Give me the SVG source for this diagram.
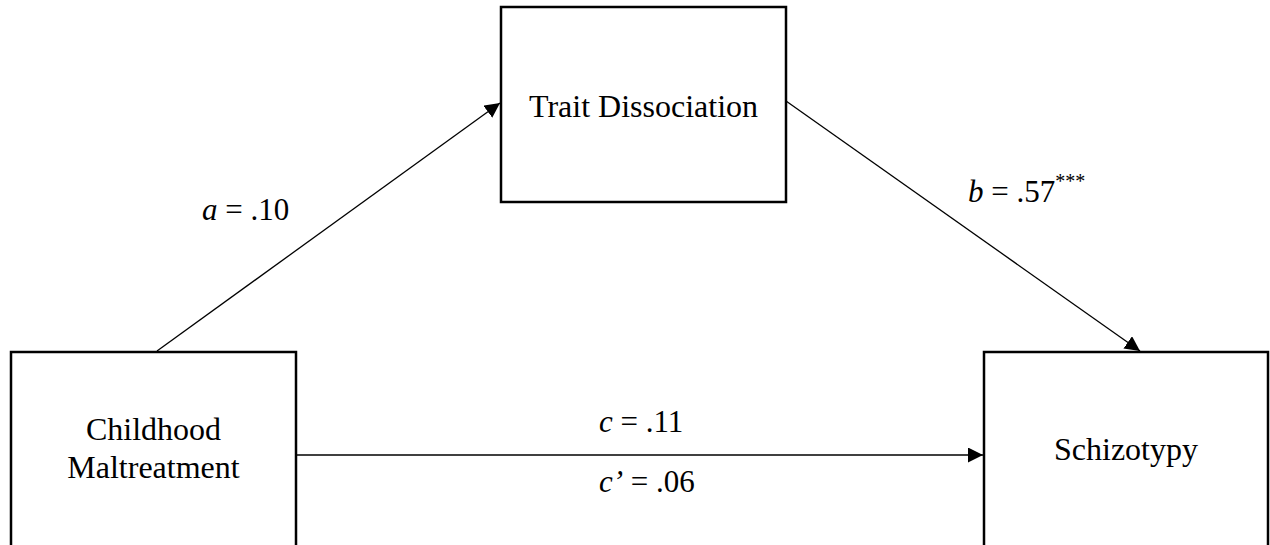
<svg xmlns="http://www.w3.org/2000/svg" width="1270" height="545" viewBox="0 0 1270 545">
<defs>
<marker id="arr" markerWidth="16" markerHeight="16" refX="15" refY="7.5" orient="auto" markerUnits="userSpaceOnUse">
<path d="M0,0 L15,7.5 L0,15 Z" fill="#000"/>
</marker>
<style>
.box{fill:#fff;stroke:#000;stroke-width:2.5}
.t{font-family:"Liberation Serif","Times New Roman",serif;font-size:32px;fill:#000}
.lbl{font-family:"Liberation Serif","Times New Roman",serif;font-size:31px;fill:#000}
.edge{stroke:#000;stroke-width:1.3;fill:none}
</style>
</defs>
<rect width="1270" height="545" fill="#fff"/>
<g id="connectors">
<line class="edge" x1="157" y1="351" x2="500" y2="103" marker-end="url(#arr)"/>
<line class="edge" x1="786" y1="101" x2="1140" y2="351" marker-end="url(#arr)"/>
<line class="edge" x1="296" y1="455" x2="983" y2="455" marker-end="url(#arr)"/>
</g>
<g id="node-trait">
<rect class="box" x="501" y="7" width="285" height="195"/>
<text class="t" x="643.5" y="117" text-anchor="middle">Trait Dissociation</text>
</g>
<g id="node-childhood">
<rect class="box" x="11" y="352" width="285" height="210"/>
<text class="t" x="153.5" y="440" text-anchor="middle">Childhood</text>
<text class="t" x="153.5" y="478" text-anchor="middle">Maltreatment</text>
</g>
<g id="node-schizotypy">
<rect class="box" x="984" y="352" width="284" height="210"/>
<text class="t" x="1126" y="460" text-anchor="middle">Schizotypy</text>
</g>
<g id="labels">
<text class="lbl" x="202" y="220"><tspan font-style="italic">a</tspan> = .10</text>
<text class="lbl" x="968" y="202"><tspan font-style="italic">b</tspan> = .57<tspan font-size="20" dy="-14">***</tspan></text>
<text class="lbl" x="599" y="432"><tspan font-style="italic">c</tspan> = .11</text>
<text class="lbl" x="599" y="492"><tspan font-style="italic">c’</tspan> = .06</text>
</g>
</svg>
